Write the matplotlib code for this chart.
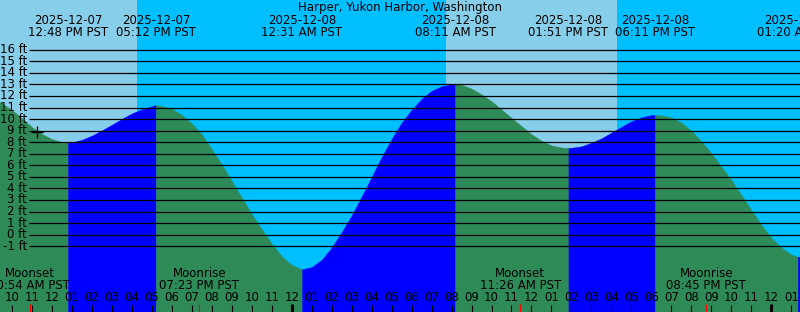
import matplotlib

matplotlib.use("Agg")
import matplotlib.pyplot as plt
import numpy as np

# all times are hours after 2025-12-07 00:00 PST
title = "Harper, Yukon Harbor, Washington"

tide_times = [12.80, 17.20, 24.517, 32.183, 37.85, 42.183, 49.333]
tide_heights = [7.95, 11.20, -3.00, 13.03, 7.50, 10.35, -1.92]
tide_dates = ["2025-12-07", "2025-12-07", "2025-12-08", "2025-12-08",
              "2025-12-08", "2025-12-08", "2025-12-09"]
tide_clock = ["12:48 PM PST", "05:12 PM PST", "12:31 AM PST", "08:11 AM PST",
              "01:51 PM PST", "06:11 PM PST", "01:20 AM PST"]

# tide height (ft) read every half hour
curve_hours = np.arange(9.0, 50.0, 0.5)
curve_heights = [
    11.80, 11.37, 10.78, 10.07, 9.30, 8.72, 8.27, 8.01,       # 9:00 - 12:30
    7.98, 8.21, 8.57, 9.02, 9.51, 10.02, 10.49, 10.84,        # 13:00 - 16:30
    11.11, 11.12, 10.89, 10.36, 9.61, 8.68, 7.38, 6.07,       # 17:00 - 20:30
    4.63, 3.20, 1.78, 0.48, -0.78, -1.88, -2.62, -2.98,       # 21:00 - 24:30
    -2.80, -2.18, -1.11, 0.22, 1.67, 3.29, 5.00, 6.71,        # 25:00 - 28:30
    8.28, 9.68, 10.80, 11.75, 12.44, 12.84, 13.01, 12.96,     # 29:00 - 32:30
    12.64, 12.14, 11.54, 10.83, 10.10, 9.40, 8.69, 8.13,      # 33:00 - 36:30
    7.72, 7.54, 7.52, 7.64, 7.95, 8.33, 8.83, 9.32,           # 37:00 - 40:30
    9.81, 10.15, 10.34, 10.32, 10.14, 9.69, 9.00, 8.07,       # 41:00 - 44:30
    7.05, 5.90, 4.74, 3.44, 2.15, 0.86, -0.27, -1.10,         # 45:00 - 48:30
    -1.72, -1.90,                                             # 49:00 - 49:30
]

sunset_times = [16.26, 40.28]
sunrise_times = [31.71]

moon_times = [10.90, 19.383, 35.433, 44.75]
moon_events = ["Moonset", "Moonrise", "Moonset", "Moonrise"]
moon_clock = ["10:54 AM PST", "07:23 PM PST", "11:26 AM PST", "08:45 PM PST"]

now_time = 11.27
now_height = 8.91

ft_levels = list(range(-1, 17))
hour_ticks = list(range(10, 50))

DAY = "#87CEEB"
NIGHT = "#00BFFF"
EBB = "#2E8B57"
FLOOD = "#0000FF"

W, H = 800, 312
PX_PER_HOUR = 19.98
T0 = 9.40
T1 = T0 + W / PX_PER_HOUR
# pixel row of 16 ft line and pixels per foot
Y16, PX_PER_FT = 49.7, 11.56
FT_TOP = 16 + Y16 / PX_PER_FT
FT_BOT = 16 - (H - Y16) / PX_PER_FT
FS = 8.5

fig = plt.figure(figsize=(W / 100, H / 100), dpi=100)
ax = fig.add_axes([0, 0, 1, 1])
ax.set_xlim(T0, T1)
ax.set_ylim(FT_BOT, FT_TOP)
ax.axis("off")

xt = ax.get_xaxis_transform()
yt = ax.get_yaxis_transform()


def py(px):
    # pixel row -> axes fraction
    return 1 - px / H


# sky
edges = [T0] + sorted(sunset_times + sunrise_times) + [T1]
for i, (a, b) in enumerate(zip(edges[:-1], edges[1:])):
    ax.axvspan(a, b, color=DAY if i % 2 == 0 else NIGHT, lw=0)

# water
t_all = np.concatenate([curve_hours, tide_times])
h_all = np.concatenate([curve_heights, tide_heights])
order = np.argsort(t_all)
t_all, h_all = t_all[order], h_all[order]
seg = [t_all[0]] + tide_times + [t_all[-1]]
for a, b in zip(seg[:-1], seg[1:]):
    m = (t_all >= a) & (t_all <= b)
    hs = h_all[m]
    c = FLOOD if hs[-1] > hs[0] else EBB
    ax.fill_between(t_all[m], hs, FT_BOT - 1, color=c, lw=0.3, edgecolor=c)

# grid lines and labels
ax.hlines(ft_levels, T0 + 29 / PX_PER_HOUR, T1, color="black", lw=0.9)
for lv in ft_levels:
    ax.text(27 / W, lv, f"{lv} ft", transform=yt, ha="right", va="center",
            fontsize=FS, color="black")

ax.plot([now_time], [now_height], marker="+", ms=8, mew=1, color="black")

# title and tide extremes
ax.text(0.5, py(11), title, transform=ax.transAxes, ha="center",
        va="baseline", fontsize=FS)
for t, d, c in zip(tide_times, tide_dates, tide_clock):
    ax.text(t, py(24), d, transform=xt, ha="center", va="baseline", fontsize=FS)
    ax.text(t, py(35.7), c, transform=xt, ha="center", va="baseline", fontsize=FS)

# hour ticks
plain = [h for h in hour_ticks if h % 24 != 0]
mid = [h for h in hour_ticks if h % 24 == 0]
ax.vlines(plain, 0, 7 / H, transform=xt, color="black", lw=0.8)
ax.vlines(mid, 0, 8 / H, transform=xt, color="black", lw=2.2)
ax.vlines(moon_times, 0, 8 / H, transform=xt, color="red", lw=0.8)
for h in hour_ticks:
    ax.text(h, py(300.7), f"{(h % 12) or 12:02d}", transform=xt, ha="center",
            va="baseline", fontsize=FS)

# moon events
for t, e, c in zip(moon_times, moon_events, moon_clock):
    ax.text(t, py(277), e, transform=xt, ha="center", va="baseline", fontsize=FS)
    ax.text(t, py(289), c, transform=xt, ha="center", va="baseline", fontsize=FS)

fig.savefig("out.png", dpi=100)
plt.close(fig)
